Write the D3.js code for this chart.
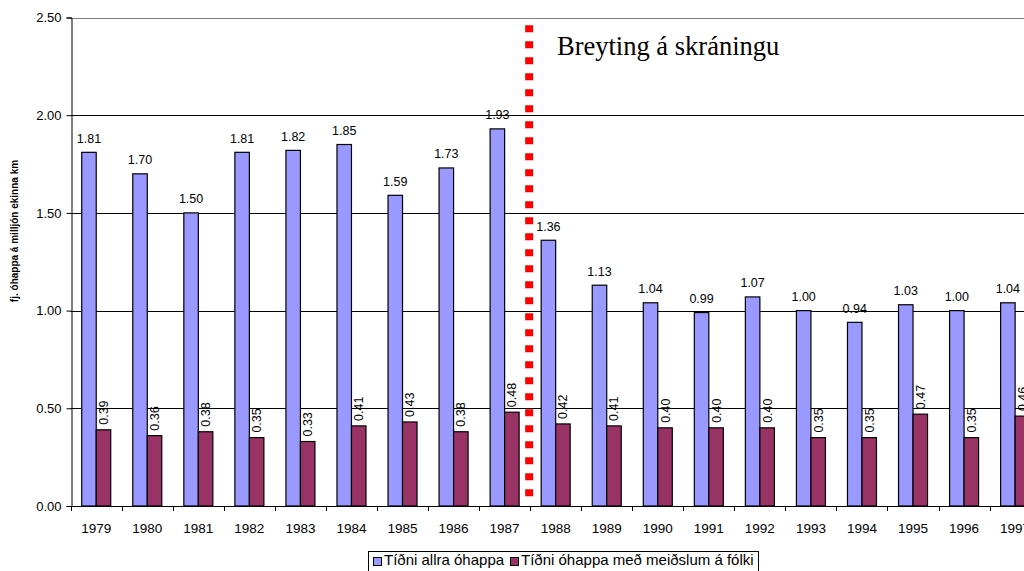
<!DOCTYPE html>
<meta charset="utf-8">
<script src="https://d3js.org/d3.v7.min.js"></script>
<style>
  body { margin: 0; background: #fff; }
  text { font-family: Arial, "Liberation Sans", sans-serif; fill: #000; }
</style>
<div id="my_dataviz"></div>
<script>

// data
var years = ["1979","1980","1981","1982","1983","1984","1985","1986","1987","1988",
             "1989","1990","1991","1992","1993","1994","1995","1996","1997"];
var allAccidents = [1.81,1.70,1.50,1.81,1.82,1.85,1.59,1.73,1.93,1.36,
                    1.13,1.04,0.99,1.07,1.00,0.94,1.03,1.00,1.04];
var injuryAccidents = [0.39,0.36,0.38,0.35,0.33,0.41,0.43,0.38,0.48,0.42,
                       0.41,0.40,0.40,0.40,0.35,0.35,0.47,0.35,0.46];
var yTicks = [0, 0.5, 1.0, 1.5, 2.0, 2.5];
var seriesNames = ["Tíðni allra óhappa", "Tíðni óhappa með meiðslum á fólki"];
var seriesColors = ["#9999ff", "#993366"];
var changeYear = "1988";
var changeLabel = "Breyting á skráningu";

var W = 1024, H = 571;
var plotLeft = 70.7, plotTop = 17.5, plotBottom = 506, step = 51.05;

var svg = d3.select("#my_dataviz")
  .append("svg")
    .attr("width", W)
    .attr("height", H);

var x = d3.scaleBand()
  .domain(years)
  .range([plotLeft, plotLeft + step * years.length])
  .padding(0);

var sub = d3.scaleBand()
  .domain([0, 1])
  .range([0, x.bandwidth()])
  .paddingInner(0)
  .paddingOuter(0.76);

var y = d3.scaleLinear()
  .domain([0, 2.5])
  .range([plotBottom, plotTop]);

// gridlines
svg.append("g")
  .selectAll("line")
  .data(yTicks.filter(d => d > 0))
  .join("line")
    .attr("x1", plotLeft)
    .attr("x2", W + 20)
    .attr("y1", d => Math.round(y(d)) + 0.5)
    .attr("y2", d => Math.round(y(d)) + 0.5)
    .attr("stroke", d => d === 2.5 ? "#808080" : "#000")
    .attr("stroke-width", 1);

// bars
var groups = svg.append("g")
  .selectAll("g")
  .data(years)
  .join("g")
    .attr("transform", d => "translate(" + x(d) + ",0)");

groups.append("rect")
    .attr("x", sub(0))
    .attr("y", (d, i) => y(allAccidents[i]))
    .attr("width", sub.bandwidth())
    .attr("height", (d, i) => plotBottom - y(allAccidents[i]))
    .attr("fill", seriesColors[0])
    .attr("stroke", "#000")
    .attr("stroke-width", 1.2);

groups.append("rect")
    .attr("x", sub(1))
    .attr("y", (d, i) => y(injuryAccidents[i]))
    .attr("width", sub.bandwidth())
    .attr("height", (d, i) => plotBottom - y(injuryAccidents[i]))
    .attr("fill", seriesColors[1])
    .attr("stroke", "#000")
    .attr("stroke-width", 1.2);

// value labels
groups.append("text")
    .attr("x", sub(0) + sub.bandwidth() / 2)
    .attr("y", (d, i) => y(allAccidents[i]) - 9.5)
    .attr("text-anchor", "middle")
    .style("font-size", "12.5px")
    .text((d, i) => allAccidents[i].toFixed(2));

groups.append("text")
    .attr("transform", (d, i) => "translate(" + (sub(1) + sub.bandwidth() / 2) + "," +
          (y(injuryAccidents[i]) - 5) + ") rotate(-90)")
    .attr("dy", "0.36em")
    .attr("text-anchor", "start")
    .style("font-size", "12.5px")
    .text((d, i) => injuryAccidents[i].toFixed(2));

// x axis
var xAxis = svg.append("g");
xAxis.append("line")
    .attr("x1", plotLeft).attr("x2", W + 20)
    .attr("y1", plotBottom + 0.5).attr("y2", plotBottom + 0.5)
    .attr("stroke", "#000");
xAxis.selectAll(".tk")
  .data(years)
  .join("line")
    .attr("class", "tk")
    .attr("x1", d => Math.round(x(d)) + 0.5)
    .attr("x2", d => Math.round(x(d)) + 0.5)
    .attr("y1", plotBottom)
    .attr("y2", plotBottom + 5)
    .attr("stroke", "#000");
xAxis.selectAll("text")
  .data(years)
  .join("text")
    .attr("x", d => x(d) + x.bandwidth() / 2)
    .attr("y", 532.5)
    .attr("text-anchor", "middle")
    .style("font-size", "13.5px")
    .text(d => d);

// y axis
var yAxis = svg.append("g")
  .attr("transform", "translate(" + (Math.round(plotLeft) + 0.5) + ",0)")
  .call(d3.axisLeft(y).tickValues(yTicks).tickSize(5).tickPadding(5)
        .tickFormat(d3.format(".2f")));
yAxis.select(".domain").attr("stroke", "#000");
yAxis.selectAll("line").attr("stroke", "#000");
yAxis.selectAll("text")
  .style("font-size", "13px")
  .style("font-family", "Arial, 'Liberation Sans', sans-serif");

svg.append("text")
    .attr("transform", "translate(14,231) rotate(-90)")
    .attr("dy", "0.35em")
    .attr("text-anchor", "middle")
    .style("font-size", "10px")
    .style("font-weight", "bold")
    .text("fj. óhappa á milljón ekinna km");

// change-of-registration marker
var cx = x(changeYear) - 1;
svg.append("line")
    .attr("x1", cx).attr("x2", cx)
    .attr("y1", y(2.46)).attr("y2", y(0.04))
    .attr("stroke", "#ff0000")
    .attr("stroke-width", 8)
    .attr("stroke-dasharray", "7,9");

svg.append("text")
    .attr("x", 557)
    .attr("y", 55)
    .style("font-family", "'Liberation Serif', 'Times New Roman', serif")
    .style("font-size", "26.5px")
    .text(changeLabel);

// legend
var legend = svg.append("g");
legend.append("rect")
    .attr("x", 368.5).attr("y", 551.5)
    .attr("width", 390).attr("height", 30)
    .attr("fill", "#fff")
    .attr("stroke", "#000");
var legX = [373, 510];
seriesNames.forEach(function(name, i) {
  legend.append("rect")
      .attr("x", legX[i] + 0.5).attr("y", 557.5)
      .attr("width", 8).attr("height", 8)
      .attr("fill", seriesColors[i])
      .attr("stroke", "#000");
  legend.append("text")
      .attr("x", legX[i] + 11)
      .attr("y", 565)
      .style("font-size", "15px")
      .text(name);
});

</script>
